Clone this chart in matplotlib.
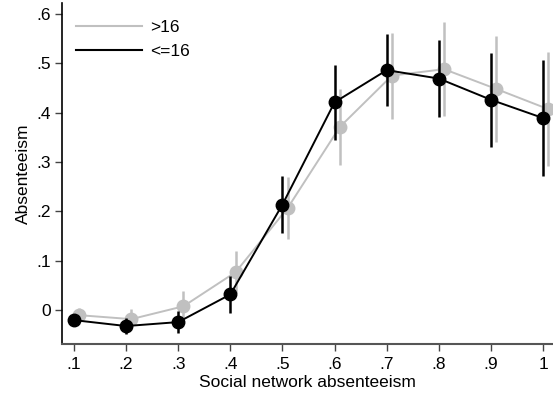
import matplotlib.pyplot as plt
import numpy as np

plt.rcParams['font.family'] = ['Liberation Sans', 'DejaVu Sans']

# binned social network absenteeism
x = np.array([0.1, 0.2, 0.3, 0.4, 0.5, 0.6, 0.7, 0.8, 0.9, 1.0])

# group >16: means and half-widths of the 95% CI
older = [-0.010, -0.018, 0.008, 0.077, 0.207, 0.371, 0.475, 0.488, 0.448, 0.407]
older_ci = [0.014, 0.020, 0.030, 0.042, 0.063, 0.076, 0.087, 0.095, 0.108, 0.116]

# group <=16
younger = [-0.020, -0.032, -0.024, 0.032, 0.214, 0.421, 0.486, 0.469, 0.426, 0.389]
younger_ci = [0.008, 0.016, 0.023, 0.037, 0.057, 0.076, 0.073, 0.078, 0.095, 0.118]

xticks = [0.1, 0.2, 0.3, 0.4, 0.5, 0.6, 0.7, 0.8, 0.9, 1.0]
xticklabels = ['.1', '.2', '.3', '.4', '.5', '.6', '.7', '.8', '.9', '1']
yticks = [0, 0.1, 0.2, 0.3, 0.4, 0.5, 0.6]
yticklabels = ['0', '.1', '.2', '.3', '.4', '.5', '.6']

grey = '#c0c0c0'
fs = 12.5

fig = plt.figure(figsize=(5.53, 3.96), dpi=100)
ax = fig.add_axes([0.1121, 0.1305, 0.8879, 0.862])

# grey series is shifted a little to the right so the bars don't overlap
ax.errorbar(x + 0.01, older, yerr=older_ci, color=grey, lw=1.4, elinewidth=1.8,
            marker='o', ms=9, capsize=0, label='>16', zorder=2)
ax.errorbar(x, younger, yerr=younger_ci, color='black', lw=1.4, elinewidth=1.8,
            marker='o', ms=9, capsize=0, label='<=16', zorder=3)

ax.set_xlim(0.077, 1.019)
ax.set_ylim(-0.069, 0.622)
ax.set_xticks(xticks)
ax.set_xticklabels(xticklabels)
ax.set_yticks(yticks)
ax.set_yticklabels(yticklabels)
ax.tick_params(labelsize=fs, length=5, width=1, color='#444444', pad=3)
ax.tick_params(axis='x', pad=4)

for s in ['top', 'right']:
    ax.spines[s].set_visible(False)
ax.spines['left'].set_color('black')
ax.spines['bottom'].set_color('#555555')
ax.spines['left'].set_linewidth(1.2)
ax.spines['bottom'].set_linewidth(1.5)

ax.set_xlabel('Social network absenteeism', fontsize=fs, labelpad=2)
ax.set_ylabel('Absenteeism', fontsize=fs, labelpad=4)

handles, labels = ax.get_legend_handles_labels()
handles = [plt.Line2D([], [], color=grey, lw=1.5),
           plt.Line2D([], [], color='black', lw=1.5)]
ax.legend(handles, labels, loc='upper left', frameon=False, fontsize=fs,
          handlelength=3.8, handletextpad=0.5, labelspacing=0.5,
          borderaxespad=0.4, bbox_to_anchor=(0.0, 0.99))

fig.savefig('out.png', dpi=100)
